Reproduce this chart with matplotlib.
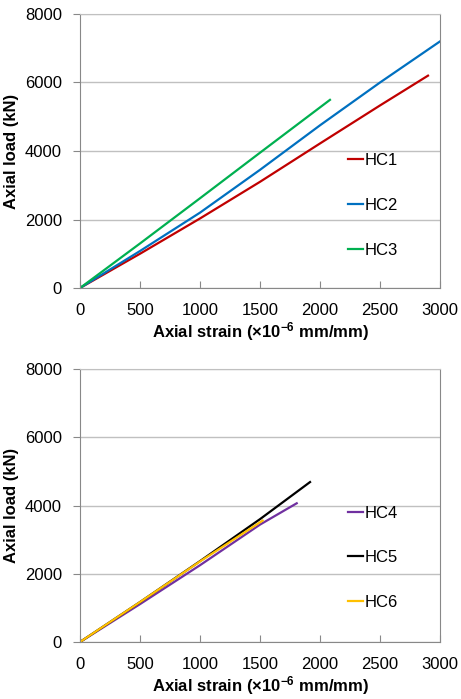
import numpy as np
import matplotlib
matplotlib.use("Agg")
import matplotlib.pyplot as plt

plt.rcParams['font.family'] = ['Liberation Sans', 'DejaVu Sans']
plt.rcParams['mathtext.fontset'] = 'custom'
plt.rcParams['mathtext.rm'] = 'Liberation Sans'
plt.rcParams['mathtext.bf'] = 'Liberation Sans:bold'

# strain (x10^-6 mm/mm) vs axial load (kN)
hc1_strain = [0, 500, 1000, 1500, 2000, 2500, 2900]
hc1_load = [0, 1000, 2030, 3100, 4220, 5330, 6200]
hc2_strain = [0, 500, 1000, 1500, 2000, 2500, 3000]
hc2_load = [0, 1080, 2200, 3450, 4750, 6000, 7200]
hc3_strain = [0, 500, 1000, 1500, 2083]
hc3_load = [0, 1300, 2620, 3950, 5493]

hc4_strain = [0, 500, 1000, 1500, 1806]
hc4_load = [0, 1110, 2250, 3440, 4065]
hc5_strain = [0, 500, 1000, 1500, 1917]
hc5_load = [0, 1170, 2370, 3600, 4687]
hc6_strain = [0, 500, 1000, 1522]
hc6_load = [0, 1170, 2360, 3558]

top_series = [("HC1", hc1_strain, hc1_load, "#C00000"),
              ("HC2", hc2_strain, hc2_load, "#0070C0"),
              ("HC3", hc3_strain, hc3_load, "#00B050")]
bottom_series = [("HC4", hc4_strain, hc4_load, "#7030A0"),
                 ("HC5", hc5_strain, hc5_load, "#000000"),
                 ("HC6", hc6_strain, hc6_load, "#FFC000")]

x_ticks = [0, 500, 1000, 1500, 2000, 2500, 3000]
y_ticks = [0, 2000, 4000, 6000, 8000]

W, H = 461, 699
fig = plt.figure(figsize=(W / 100, H / 100), dpi=100)

grid_col = "#C0C0C0"
axis_col = "#888888"


def make_panel(rect, series, leg_top):
    ax = fig.add_axes(rect)
    for name, xs, ys, col in series:
        ax.plot(xs, ys, color=col, lw=1.6, label=name)
    ax.set_xlim(0, 3000)
    ax.set_ylim(0, 8000)
    ax.set_xticks(x_ticks)
    ax.set_yticks(y_ticks)
    ax.yaxis.grid(True, color=grid_col, lw=1)
    ax.set_axisbelow(True)
    ax.spines['top'].set_color(grid_col)
    for s in ['left', 'bottom', 'right']:
        ax.spines[s].set_color(axis_col)
    ax.tick_params(axis='x', direction='in', length=5, color=axis_col,
                   labelsize=12, pad=11)
    ax.tick_params(axis='y', direction='out', length=5, color=axis_col,
                   labelsize=12, pad=8)
    ax.set_xlabel(r'Axial strain (×10$\mathbf{^{-6}}$ mm/mm)', fontsize=12,
                  fontweight='bold', labelpad=1)
    ax.set_ylabel('Axial load (kN)', fontsize=12, fontweight='bold',
                  labelpad=4)
    ax.legend(loc='upper left', bbox_to_anchor=(0.744, leg_top),
              frameon=False, fontsize=12, handlelength=0.9,
              handletextpad=0.1, labelspacing=1.78, borderpad=0,
              borderaxespad=0)
    return ax


make_panel([80 / W, 1 - 288 / H, 360 / W, 274 / H], top_series, 0.492)
make_panel([80 / W, 1 - 642 / H, 360 / W, 273 / H], bottom_series, 0.500)

fig.savefig("out.png", dpi=100)
